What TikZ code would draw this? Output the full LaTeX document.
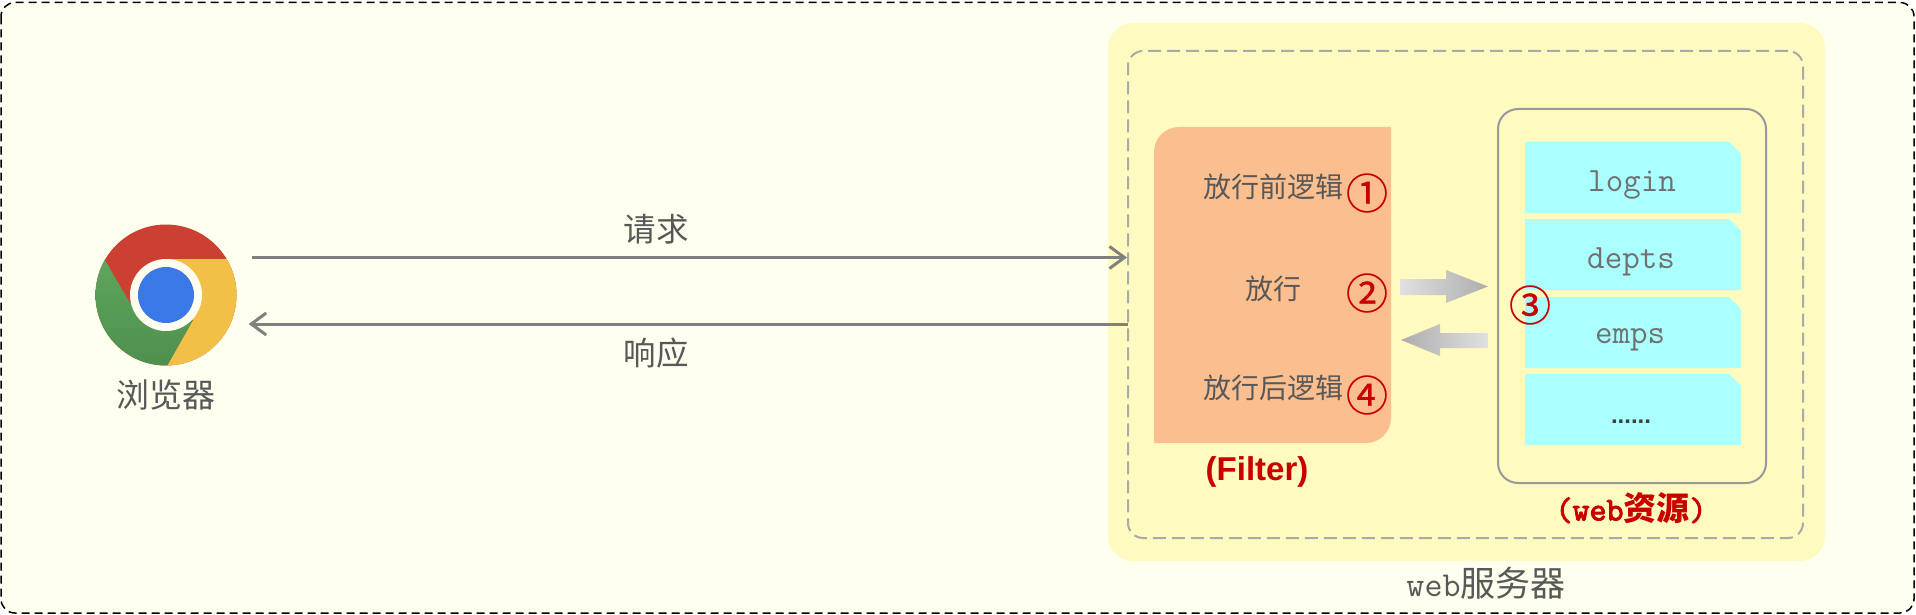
\documentclass[tikz,border=0pt]{standalone}
\usepackage{fontspec}
\setmainfont{Liberation Sans}
\newfontfamily\cjk{Noto Sans CJK SC}
\newfontfamily\cjknum[FakeBold=0.6]{Noto Sans CJK SC}
\newfontfamily\lmtt{Latin Modern Mono}
\newfontfamily\lmttb[FakeBold=3]{Latin Modern Mono}
\usetikzlibrary{arrows.meta,calc}
\definecolor{bgout}{HTML}{FFFFF0}
\definecolor{yel}{HTML}{FFFBC0}
\definecolor{ora}{HTML}{FBBF8F}
\definecolor{cya}{HTML}{AAFFFF}
\definecolor{redt}{HTML}{C80000}
\definecolor{txt}{HTML}{585858}
\definecolor{linkc}{HTML}{808080}
\definecolor{dashc}{HTML}{AAAAAA}
\definecolor{boxc}{HTML}{999999}
\definecolor{chr}{HTML}{CC4033}
\definecolor{chy}{HTML}{F2C046}
\definecolor{chga}{HTML}{64AC62}
\definecolor{chgb}{HTML}{488A48}
\definecolor{chb}{HTML}{3B78E7}
\definecolor{filet}{HTML}{707070}
\newcommand{\filesheet}[2]{\fill[cya] (#1,#2) -- (#1+204,#2) -- (#1+216,#2+12) -- (#1+216,#2+71) -- (#1,#2+71) -- cycle;}
\tikzset{
  cn/.style={font=\cjk\fontsize{#1}{#1}\selectfont,text=txt,inner sep=0pt},
  num/.style={font=\cjknum\fontsize{42}{42}\selectfont,text=redt,inner sep=0pt},
  filetext/.style={anchor=base,inner sep=0pt,font=\lmtt\fontsize{34}{34}\selectfont,text=filet},
  link/.style={draw=linkc,line width=3pt,-{Straight Barb[length=15pt,width=22pt,line width=3pt]}},
  red label/.style={text=redt,inner sep=0pt},
}
\begin{document}
\begin{tikzpicture}[x=1pt,y=-1pt]
\useasboundingbox (0,0) rectangle (1916,615);
\fill[white] (0,0) rectangle (1916,615);
\draw[black,fill=bgout,line width=1.5pt,dash pattern=on 8pt off 5pt,rounded corners=14pt] (1,2.5) rectangle (1914,613);
\fill[yel,rounded corners=25pt] (1108,23) rectangle (1825,561);
\node[draw=dashc,line width=2pt,dash pattern=on 13pt off 6pt,rounded corners=15pt,minimum width=675pt,minimum height=487pt,inner sep=0pt,outer sep=0pt] (server) at (1465.5,294.5) {};
% filter block
\fill[ora] (1154,443) -- (1154,152) arc[start angle=180,end angle=90,radius=25pt] -- (1391,127) -- (1391,418) arc[start angle=0,end angle=-90,radius=25pt] -- cycle;
% web resources
\node[draw=boxc,line width=2pt,rounded corners=20pt,minimum width=268pt,minimum height=374pt,inner sep=0pt] (webres) at (1632,296) {};
\filesheet{1525}{142}
\filesheet{1525}{219}
\filesheet{1525}{297}
\filesheet{1525}{374}
\node[filetext] (t1) at (1632,191) {login};
\node[filetext] (t2) at (1631,268) {depts};
\node[filetext] (t3) at (1630,343) {emps};
\node[anchor=base,inner sep=0pt,font=\bfseries\fontsize{24}{24}\selectfont,text=black!75] (t4) at (1631,423) {......};
% filter text
\node[cn=28] (a1) at (1273,187) {放行前逻辑};
\node[cn=28] (a2) at (1273,289) {放行};
\node[cn=28] (a3) at (1273,388) {放行后逻辑};
\node[num] (n1) at (1367,193) {①};
\node[num] (n2) at (1367,293) {②};
\node[num] (n3) at (1530,305) {③};
\node[num] (n4) at (1367,395) {④};
\node[red label,font=\bfseries\fontsize{33}{33}\selectfont] (filt) at (1257,472) {(Filter)};
\node[red label,font=\fontsize{33}{33}\selectfont] (wr) at (1631,508) {{\lmttb (web}{\cjk\bfseries 资源}{\lmttb )}};
\node[text=txt,inner sep=0pt,font=\fontsize{35}{35}\selectfont] (ws) at (1486,583) {{\lmtt web}{\cjk 服务器}};
% block arrows
\shade[left color=black!12,right color=black!32] (1400,279) -- (1446,279) -- (1446,270) -- (1488,286.5) -- (1446,303) -- (1446,295) -- (1400,295) -- cycle;
\shade[left color=black!32,right color=black!12] (1488,333) -- (1440,333) -- (1440,324) -- (1401,340) -- (1440,356) -- (1440,348) -- (1488,348) -- cycle;
% browser icon
\node[circle,minimum size=141pt,inner sep=0pt] (chrome) at (166,295) {};
\begin{scope}
\clip (166,295) circle[radius=70.5pt];
\fill[chr] (90,220) rectangle (240,370);
\fill[chy] (166,259) -- (260,259) -- (260,430) -- (150,396) -- (193,320) -- (166,295) -- cycle;
\shade[top color=chga,bottom color=chgb] (85,226) -- (130,303) -- (193,320) -- (150,396) -- (80,396) -- cycle;
\end{scope}
\fill[bgout] (166,295) circle[radius=36pt];
\fill[chb] (166,295) circle[radius=28pt];
\node[cn=33] (bn) at (166,395) {浏览器};
% connectors
\draw[link] ([shift={(15pt,37.5pt)}]chrome.east) -- ([xshift=-1pt,yshift=37pt]server.west);
\draw[link] ([yshift=-29.5pt]server.west) -- ([shift={(12pt,-29pt)}]chrome.east);
\node[cn=32.5] (req) at (656,229) {请求};
\node[cn=32.5] (res) at (656,353) {响应};
\end{tikzpicture}
\end{document}
